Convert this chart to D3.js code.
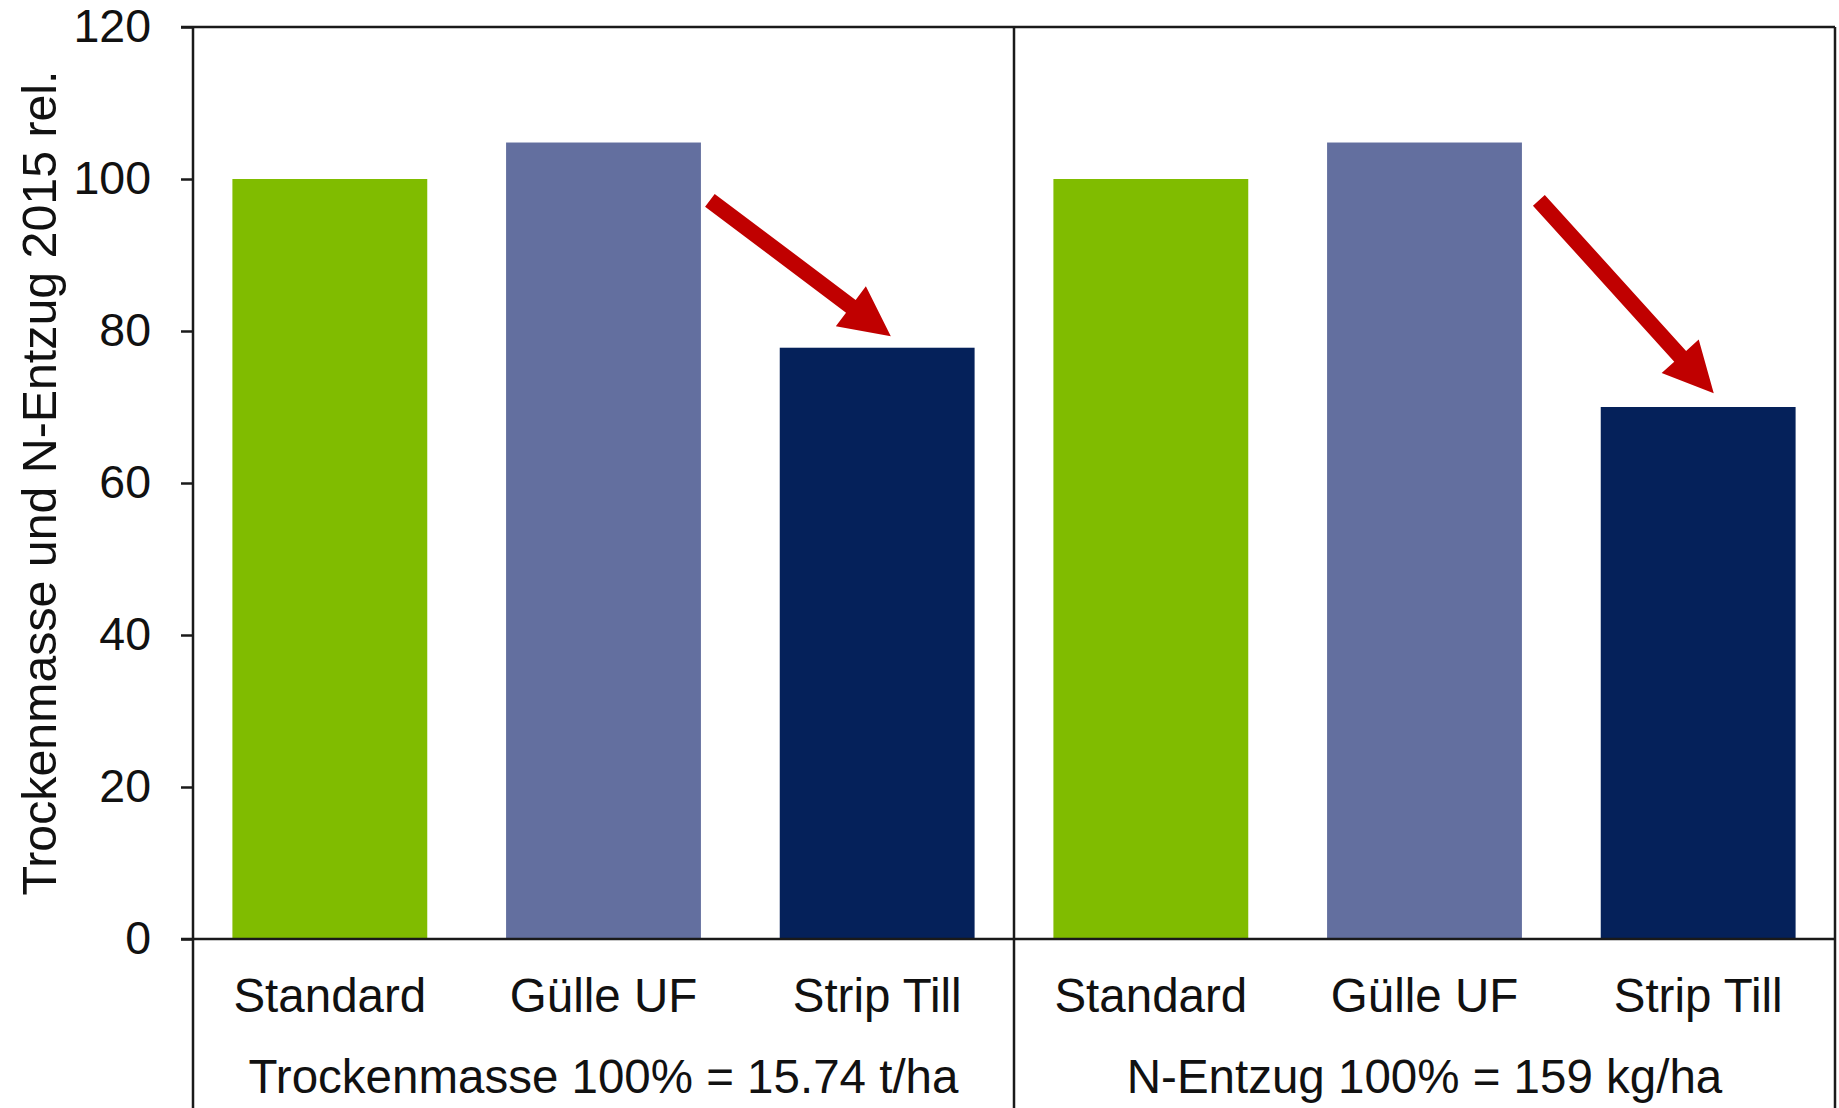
<!DOCTYPE html>
<html>
<head>
<meta charset="utf-8">
<script src="https://cdn.jsdelivr.net/npm/d3@7/dist/d3.min.js"></script>
<style>
  html, body { margin: 0; padding: 0; background: #fff; }
  svg { display: block; font-family: "Liberation Sans", Arial, sans-serif; }
</style>
</head>
<body>
<svg id="chart" width="1839" height="1108"></svg>
<script>
// Relative dry matter yield and N uptake 2015 (Standard = 100)
const treatments = ["Standard", "Gülle UF", "Strip Till"];
const panelLabels = ["Trockenmasse 100% = 15.74 t/ha", "N-Entzug 100% = 159 kg/ha"];
const trockenmasse = [100, 104.8, 77.8];
const nEntzug = [100, 104.8, 70.0];
const yTicks = [0, 20, 40, 60, 80, 100, 120];
const yLabel = "Trockenmasse und N-Entzug 2015 rel.";
const treatmentColors = ["#80bc00", "#636f9f", "#05215a"];

// Decline arrows: from just right of the Gülle UF bar down to the Strip Till bar
// (x as a fraction of the bar width, y in chart units)
const arrowFrom = [{ cat: 1, fx: 1.046, v: 97.2 }, { cat: 1, fx: 1.087, v: 97.2 }];
const arrowTo   = [{ cat: 2, fx: 0.57,  v: 79.3 }, { cat: 2, fx: 0.58,  v: 71.8 }];

const panelValues = [trockenmasse, nEntzug];

const plotLeft = 193, plotRight = 1835, plotTop = 27, plotBase = 939, frameBottom = 1108;
const svg = d3.select("#chart");
const ink = "#1a1a1a";

const keys = [];
panelValues.forEach((vals, p) => vals.forEach((v, i) => keys.push(p + "-" + i)));

const x = d3.scaleBand().domain(keys).range([plotLeft, plotRight])
  .paddingInner(0.288).paddingOuter(0.144);
const y = d3.scaleLinear().domain([0, 120]).range([plotBase, plotTop]);

// bars
const bars = [];
panelValues.forEach((vals, p) => vals.forEach((v, i) =>
  bars.push({ key: p + "-" + i, value: v, color: treatmentColors[i], label: treatments[i] })));

svg.append("g").selectAll("rect").data(bars).join("rect")
  .attr("x", d => x(d.key))
  .attr("y", d => y(d.value))
  .attr("width", x.bandwidth())
  .attr("height", d => y(0) - y(d.value))
  .attr("fill", d => d.color);

// y axis
const yAxis = svg.append("g").attr("transform", `translate(${plotLeft},0)`)
  .call(d3.axisLeft(y).tickValues(yTicks).tickSize(12).tickPadding(30).tickSizeOuter(0));
yAxis.select(".domain").remove();
yAxis.selectAll(".tick line").attr("stroke", ink).attr("stroke-width", 2.5);
yAxis.selectAll(".tick text")
  .attr("font-size", 46.5).attr("fill", "#111")
  .attr("font-family", "'Liberation Sans', Arial, sans-serif");

// frame lines
const step = x.step();
const divider = plotLeft + step * 3;
const frame = svg.append("g").attr("stroke", ink).attr("stroke-width", 2.5).attr("fill", "none");
frame.append("line").attr("x1", plotLeft - 12).attr("x2", plotRight).attr("y1", plotTop).attr("y2", plotTop);
frame.append("line").attr("x1", plotLeft - 12).attr("x2", plotRight).attr("y1", y(0)).attr("y2", y(0));
[plotLeft, divider, plotRight].forEach(xx =>
  frame.append("line").attr("x1", xx).attr("x2", xx).attr("y1", plotTop).attr("y2", frameBottom));

// category labels
svg.append("g").selectAll("text").data(bars).join("text")
  .attr("x", d => x(d.key) + x.bandwidth() / 2)
  .attr("y", 1012)
  .attr("text-anchor", "middle")
  .attr("font-size", 47.5)
  .attr("fill", "#111")
  .text(d => d.label);

// panel labels
svg.append("g").selectAll("text").data(panelLabels).join("text")
  .attr("x", (d, p) => plotLeft + step * 3 * p + step * 1.5)
  .attr("y", 1093)
  .attr("text-anchor", "middle")
  .attr("font-size", 47.5)
  .attr("fill", "#111")
  .text(d => d);

// y axis title
svg.append("text")
  .attr("transform", `translate(56,${(plotTop + plotBase) / 2}) rotate(-90)`)
  .attr("text-anchor", "middle")
  .attr("font-size", 48.3)
  .attr("fill", "#111")
  .text(yLabel);

// arrows
function arrowPath(x0, y0, x1, y1, shaftW, headW, headL) {
  const dx = x1 - x0, dy = y1 - y0, len = Math.hypot(dx, dy);
  const ux = dx / len, uy = dy / len, nx = -uy, ny = ux;
  const bx = x1 - ux * headL, by = y1 - uy * headL;
  const pts = [
    [x0 + nx * shaftW / 2, y0 + ny * shaftW / 2],
    [bx + nx * shaftW / 2, by + ny * shaftW / 2],
    [bx + nx * headW / 2, by + ny * headW / 2],
    [x1, y1],
    [bx - nx * headW / 2, by - ny * headW / 2],
    [bx - nx * shaftW / 2, by - ny * shaftW / 2],
    [x0 - nx * shaftW / 2, y0 - ny * shaftW / 2]
  ];
  return "M" + pts.map(p => p.join(",")).join("L") + "Z";
}
svg.append("g").selectAll("path").data(arrowFrom).join("path")
  .attr("fill", "#c00000")
  .attr("d", (a, p) => {
    const b = arrowTo[p];
    const x0 = x(p + "-" + a.cat) + a.fx * x.bandwidth();
    const x1 = x(p + "-" + b.cat) + b.fx * x.bandwidth();
    return arrowPath(x0, y(a.v), x1, y(b.v), 16, 50, 50);
  });
</script>
</body>
</html>
